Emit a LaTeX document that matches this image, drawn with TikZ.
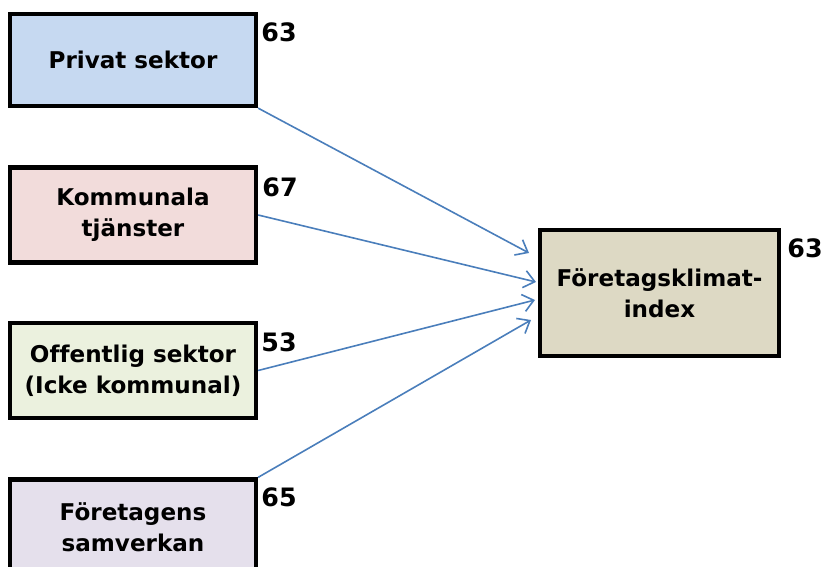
\documentclass[tikz,border=0pt]{standalone}
\usepackage{fontspec}
\setmainfont{DejaVu Sans}[Ligatures=CommonOff]
\usetikzlibrary{arrows.meta}
\definecolor{privatfill}{HTML}{C6D9F1}
\definecolor{kommunfill}{HTML}{F2DCDB}
\definecolor{offentligfill}{HTML}{EBF1DE}
\definecolor{samverkanfill}{HTML}{E5E0EC}
\definecolor{indexfill}{HTML}{DDD9C4}
\definecolor{arrowblue}{HTML}{4A7EBB}
\begin{document}
\begin{tikzpicture}[x=0.75pt, y=-0.75pt,
  faktor/.style={draw, line width=3.2pt, align=center, minimum width=184.5pt, minimum height=71.25pt,
    font=\fontsize{17.3}{23.25}\selectfont\bfseries},
  poang/.style={font=\fontsize{19}{23}\selectfont\bfseries},
  pil/.style={draw=arrowblue, line width=1.2pt, -{Straight Barb[length=8pt, width=13pt]}}]
\useasboundingbox (0,0) rectangle (822,567);
\clip (0,0) rectangle (822,567);
\node[faktor, fill=privatfill, minimum height=69pt] (privat) at (133,60) {Privat sektor};
\node[faktor, fill=kommunfill] (kommun) at (133,215) {Kommunala\\ tjänster};
\node[faktor, fill=offentligfill] (offentlig) at (133,370.5) {Offentlig sektor\\ (Icke kommunal)};
\node[faktor, fill=samverkanfill] (samverkan) at (133,527) {Företagens\\ samverkan};
\node[faktor, fill=indexfill, minimum width=179.25pt, minimum height=94.5pt] (index) at (659.5,293) {Företagsklimat-\\ index};
% poäng
\node[poang] (p1) at (279,32) {63};
\node[poang] (p2) at (280,187) {67};
\node[poang] (p3) at (279,342) {53};
\node[poang] (p4) at (279,497) {65};
\node[poang] (p5) at (805,248) {63};
% pilar in mot index
\coordinate (in1) at (529,253);
\coordinate (in2) at (536,282);
\coordinate (in3) at (535,300);
\coordinate (in4) at (531,320);
\draw[pil] (privat.south east) -- (in1);
\draw[pil] (kommun.east) -- (in2);
\draw[pil] (offentlig.east) -- (in3);
\draw[pil] (samverkan.north east) -- (in4);
\end{tikzpicture}
\end{document}
